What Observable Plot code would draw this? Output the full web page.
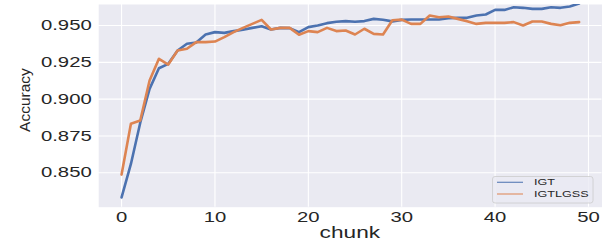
<!DOCTYPE html>
<html><head><meta charset="utf-8">
<script src="https://cdn.jsdelivr.net/npm/d3@7"></script>
<script src="https://cdn.jsdelivr.net/npm/@observablehq/plot@0.6"></script>
<style>
html,body{margin:0;padding:0;background:#fff;}
#chart{width:603px;height:241px;overflow:hidden;}
</style></head><body><div id="chart"></div>
<script>
const chunks = [0,1,2,3,4,5,6,7,8,9,10,11,12,13,14,15,16,17,18,19,20,21,22,23,24,25,26,27,28,29,30,31,32,33,34,35,36,37,38,39,40,41,42,43,44,45,46,47,48,49];
const igt = [0.8333,0.8560,0.8840,0.9070,0.9210,0.9240,0.9330,0.9376,0.9385,0.9439,
             0.9455,0.9450,0.9462,0.9471,0.9484,0.9495,0.9473,0.9484,0.9482,0.9455,
             0.9489,0.9500,0.9516,0.9525,0.9530,0.9525,0.9530,0.9545,0.9539,0.9528,
             0.9538,0.9541,0.9541,0.9541,0.9541,0.9550,0.9552,0.9552,0.9568,0.9575,
             0.9606,0.9606,0.9624,0.9620,0.9613,0.9613,0.9624,0.9620,0.9629,0.9650];
const igtlgss = [0.8488,0.8833,0.8855,0.9127,0.9274,0.9235,0.9330,0.9342,0.9387,0.9387,
             0.9391,0.9421,0.9455,0.9484,0.9511,0.9538,0.9473,0.9484,0.9484,0.9437,
             0.9462,0.9455,0.9484,0.9462,0.9466,0.9439,0.9478,0.9443,0.9439,0.9536,
             0.9540,0.9511,0.9511,0.9568,0.9556,0.9561,0.9545,0.9529,0.9511,0.9518,
             0.9518,0.9518,0.9523,0.9500,0.9527,0.9527,0.9511,0.9502,0.9518,0.9523];
const seriesNames = ["IGT", "IGTLGSS"];
const seriesColors = ["#4C72B0", "#DD8452"];
const xTicks = [0, 10, 20, 30, 40, 50];
const yTicks = [0.850, 0.875, 0.900, 0.925, 0.950];
const xLabel = "chunk";
const yLabel = "Accuracy";

const seriesValues = [igt, igtlgss];
const data = [];
seriesNames.forEach((s, i) => chunks.forEach((c, j) => data.push({chunk: c, acc: seriesValues[i][j], series: s})));

const W = 603, H = 241, ML = 98.2, MR = 1.5, MT = 4, MB = 34.3;
const textColor = "#262626";
const font = "'Liberation Sans', Arial, sans-serif";

const svg = Plot.plot({
  width: W, height: H,
  marginLeft: ML, marginRight: MR, marginTop: MT, marginBottom: MB,
  style: {background: "white", fontFamily: font, overflow: "visible"},
  x: {domain: [-2.45, 51.45], axis: null},
  y: {domain: [0.82665, 0.96426], axis: null},
  color: {domain: seriesNames, range: seriesColors},
  marks: [
    Plot.frame({fill: "#EAEAF2", stroke: "none"}),
    Plot.ruleX(xTicks, {stroke: "white", strokeWidth: 1.1}),
    Plot.ruleY(yTicks, {stroke: "white", strokeWidth: 1.1}),
    Plot.line(data, {x: "chunk", y: "acc", z: "series", stroke: "series", strokeWidth: 2.6, clip: true}),
    Plot.text(xTicks, {x: d => d, text: d => String(d), frameAnchor: "bottom", lineAnchor: "middle", dy: 10.5, fontSize: 14.5, fill: textColor}),
    Plot.text(yTicks, {y: d => d, text: d => d3.format(".3f")(d), frameAnchor: "left", textAnchor: "end", lineAnchor: "middle", dx: -7, fontSize: 14.5, fill: textColor})
  ]
});
document.getElementById("chart").append(svg);

const s = d3.select(svg);
s.append("text")
  .attr("x", ML + (W - ML - MR) / 2).attr("y", 238.3)
  .attr("text-anchor", "middle").attr("font-size", 16.2).attr("fill", textColor)
  .attr("font-family", font).text(xLabel);
s.append("text")
  .attr("transform", "translate(29.8,100) rotate(-90)")
  .attr("text-anchor", "middle").attr("font-size", 15.5).attr("fill", textColor)
  .attr("font-family", font).attr("class", "nostretch").text(yLabel);

// legend
const lg = s.append("g");
lg.append("rect").attr("x", 492.5).attr("y", 176.5).attr("width", 100.5).attr("height", 26.5).attr("rx", 2.5)
  .attr("fill", "#EAEAF2").attr("fill-opacity", 0.8).attr("stroke", "#CCCCCC").attr("stroke-width", 0.8);
seriesNames.forEach((n, i) => {
  const y = 182.3 + i * 11.7;
  lg.append("line").attr("x1", 497).attr("x2", 523).attr("y1", y).attr("y2", y)
    .attr("stroke", seriesColors[i]).attr("stroke-width", 1.2).attr("stroke-opacity", 0.85);
  lg.append("text").attr("x", 534).attr("y", y).attr("dy", "0.35em").attr("font-size", 9)
    .attr("text-anchor", "start")
    .attr("fill", textColor).attr("font-family", font).text(n);
});

// horizontal stretch of text to match the reference rendering
const SX = 1.4;
s.selectAll("text").each(function() {
  if (this.classList.contains("nostretch")) return;
  const fs = parseFloat(getComputedStyle(this).fontSize) || 10;
  const parse = v => { if (!v) return 0; if (String(v).endsWith("em")) return parseFloat(v) * fs; return parseFloat(v) || 0; };
  const p = parse(this.getAttribute("x")) + parse(this.getAttribute("dx"));
  const t = this.getAttribute("transform") || "";
  this.setAttribute("transform", `${t} translate(${p},0) scale(${SX},1) translate(${-p},0)`);
});
</script>
</body></html>
